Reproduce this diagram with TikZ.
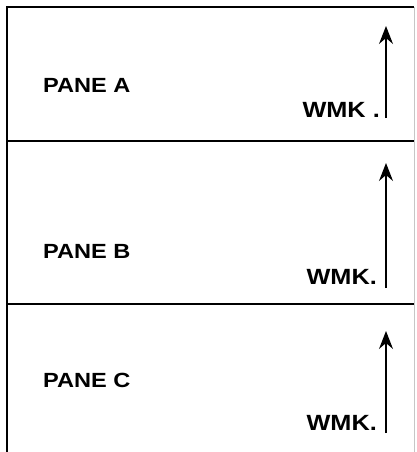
\documentclass[tikz,border=0pt]{standalone}
\usepackage{fontspec}
\setmainfont{Liberation Sans}
\newfontfamily\panefont[FakeStretch=1.15]{Liberation Sans}
\usetikzlibrary{arrows.meta}

\begin{document}
\begin{tikzpicture}[x=1pt,y=-1pt,
    paneline/.style={black,line width=1.4pt},
    panelabel/.style={anchor=west,inner sep=0pt,font=\panefont\bfseries\fontsize{20.5}{21}\selectfont},
    wmklabel/.style={anchor=east,inner sep=0pt,font=\panefont\bfseries\fontsize{22}{23}\selectfont},
    wmkarrow/.style={black,line width=1.2pt,-{Stealth[length=18pt,width=14pt,inset=6pt]}}]
      \useasboundingbox (0,0) rectangle (416,452);
      \draw [paneline] (7,452) -- (7,7) -- (414,7);
      \draw [paneline] (7,141) -- (414,141);
      \draw [paneline] (7,304) -- (414,304);
      \draw [gray!45,line width=0.5pt] (414,7) -- (414,452);
      \node [panelabel] (paneA) at (43,85) {PANE A};
      \node [wmklabel] (wmkA) at (380,110) {WMK .};
      \coordinate (tailA) at (386,118);
      \coordinate (headA) at (386,26);
      \draw [wmkarrow] (tailA) -- (headA);
      \node [panelabel] (paneB) at (43,251) {PANE B};
      \node [wmklabel] (wmkB) at (377,277) {WMK.};
      \coordinate (tailB) at (386,288);
      \coordinate (headB) at (386,163);
      \draw [wmkarrow] (tailB) -- (headB);
      \node [panelabel] (paneC) at (43,380) {PANE C};
      \node [wmklabel] (wmkC) at (377,423) {WMK.};
      \coordinate (tailC) at (386,433);
      \coordinate (headC) at (386,331);
      \draw [wmkarrow] (tailC) -- (headC);
\end{tikzpicture}
\end{document}
